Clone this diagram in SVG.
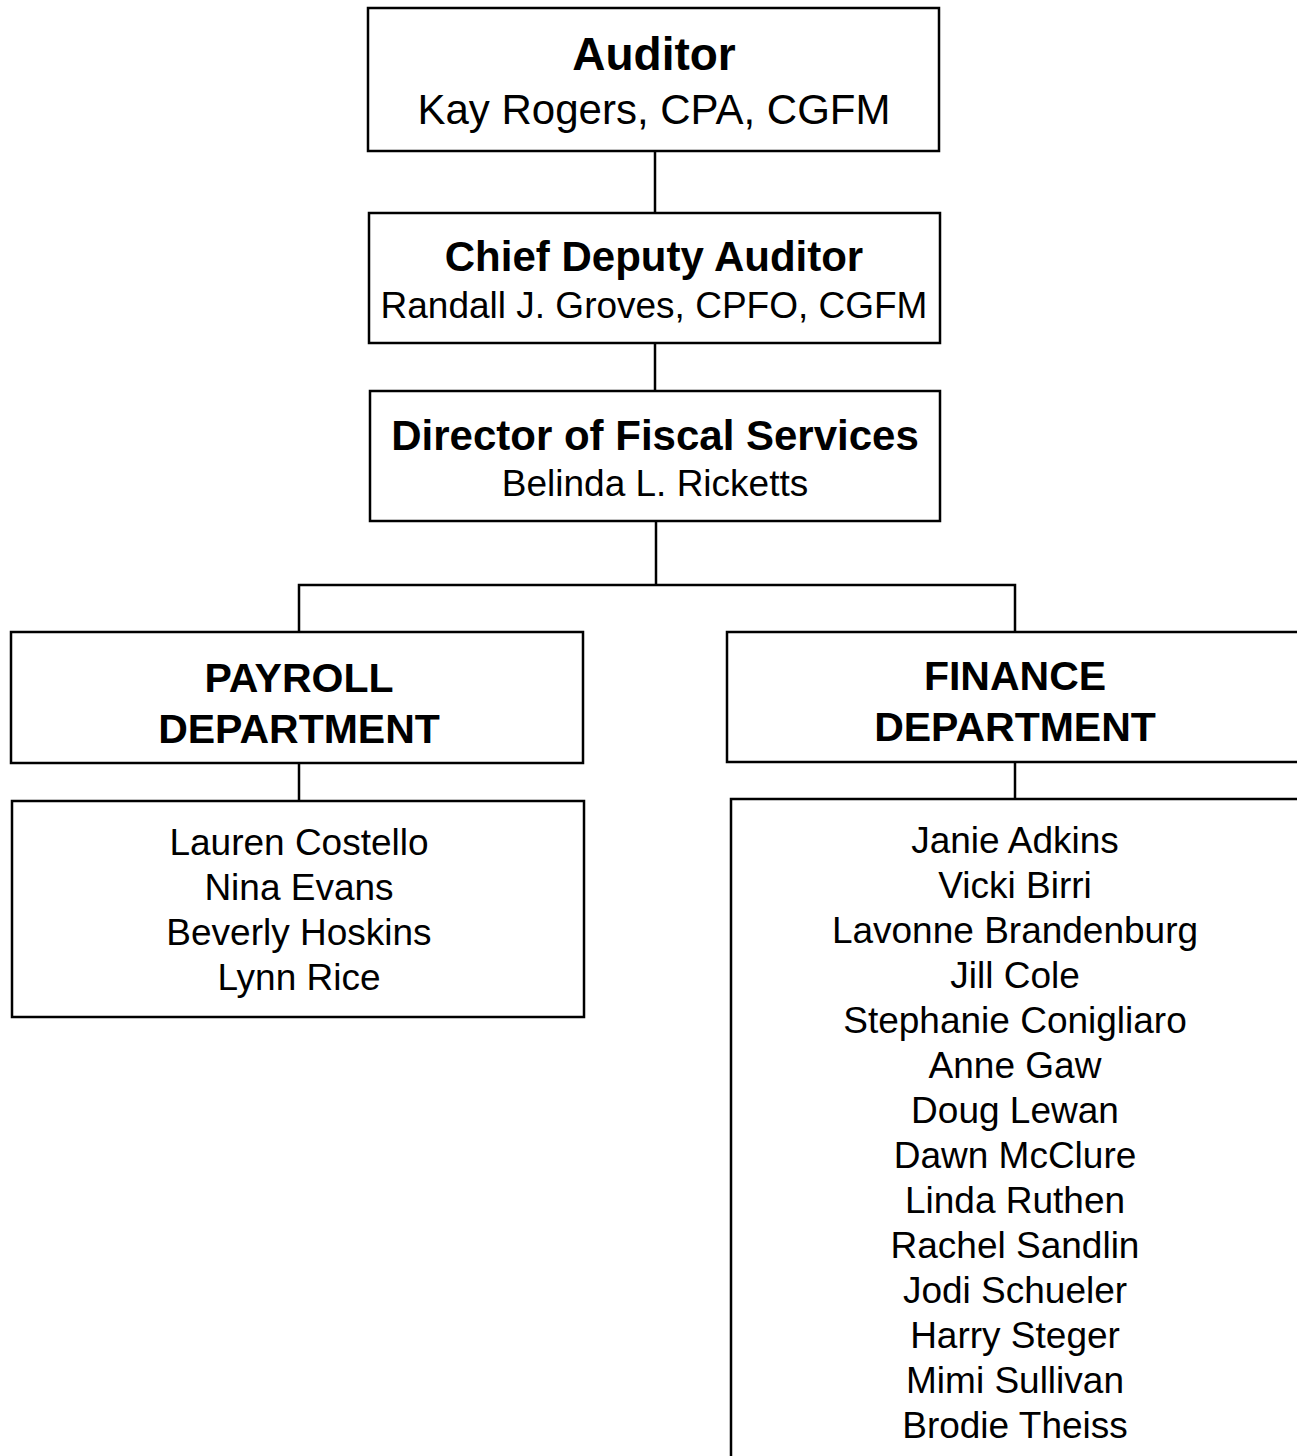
<svg xmlns="http://www.w3.org/2000/svg" width="1297" height="1456" viewBox="0 0 1297 1456">
<style>
.box{fill:#fff;stroke:#000;stroke-width:2.5}
.ln{fill:none;stroke:#000;stroke-width:2.5}
text{font-family:"Liberation Sans",Arial,sans-serif;fill:#000;text-anchor:middle}
.b{font-weight:bold}
</style>
<rect width="1297" height="1456" fill="#fff"/>
<g id="connectors">
<line class="ln" x1="655" y1="151" x2="655" y2="213"/>
<line class="ln" x1="655" y1="343" x2="655" y2="391"/>
<line class="ln" x1="656" y1="521" x2="656" y2="585"/>
<polyline class="ln" points="299,632 299,585 1015,585 1015,632"/>
<line class="ln" x1="299" y1="763" x2="299" y2="801"/>
<line class="ln" x1="1015" y1="762" x2="1015" y2="799"/>
</g>
<g id="auditor">
<rect class="box" x="368" y="8" width="571" height="143"/>
<text class="b" x="654" y="70" font-size="46">Auditor</text>
<text x="654" y="124" font-size="42">Kay Rogers, CPA, CGFM</text>
</g>
<g id="chief-deputy">
<rect class="box" x="369" y="213" width="571" height="130"/>
<text class="b" x="654" y="271" font-size="42">Chief Deputy Auditor</text>
<text x="654" y="318" font-size="37">Randall J. Groves, CPFO, CGFM</text>
</g>
<g id="director">
<rect class="box" x="370" y="391" width="570" height="130"/>
<text class="b" x="655" y="450" font-size="42">Director of Fiscal Services</text>
<text x="655" y="496" font-size="37">Belinda L. Ricketts</text>
</g>
<g id="payroll">
<rect class="box" x="11" y="632" width="572" height="131"/>
<text class="b" x="299" y="692" font-size="41">PAYROLL</text>
<text class="b" x="299" y="743" font-size="41">DEPARTMENT</text>
</g>
<g id="payroll-staff">
<rect class="box" x="12" y="801" width="572" height="216"/>
<text x="299" y="855" font-size="37">Lauren Costello</text>
<text x="299" y="900" font-size="37">Nina Evans</text>
<text x="299" y="945" font-size="37">Beverly Hoskins</text>
<text x="299" y="990" font-size="37">Lynn Rice</text>
</g>
<g id="finance">
<rect class="box" x="727" y="632" width="572" height="130"/>
<text class="b" x="1015" y="690" font-size="41">FINANCE</text>
<text class="b" x="1015" y="741" font-size="41">DEPARTMENT</text>
</g>
<g id="finance-staff">
<rect class="box" x="731" y="799" width="570" height="700"/>
<text x="1015" y="853" font-size="37">Janie Adkins</text>
<text x="1015" y="898" font-size="37">Vicki Birri</text>
<text x="1015" y="943" font-size="37">Lavonne Brandenburg</text>
<text x="1015" y="988" font-size="37">Jill Cole</text>
<text x="1015" y="1033" font-size="37">Stephanie Conigliaro</text>
<text x="1015" y="1078" font-size="37">Anne Gaw</text>
<text x="1015" y="1123" font-size="37">Doug Lewan</text>
<text x="1015" y="1168" font-size="37">Dawn McClure</text>
<text x="1015" y="1213" font-size="37">Linda Ruthen</text>
<text x="1015" y="1258" font-size="37">Rachel Sandlin</text>
<text x="1015" y="1303" font-size="37">Jodi Schueler</text>
<text x="1015" y="1348" font-size="37">Harry Steger</text>
<text x="1015" y="1393" font-size="37">Mimi Sullivan</text>
<text x="1015" y="1438" font-size="37">Brodie Theiss</text>
</g>
</svg>
